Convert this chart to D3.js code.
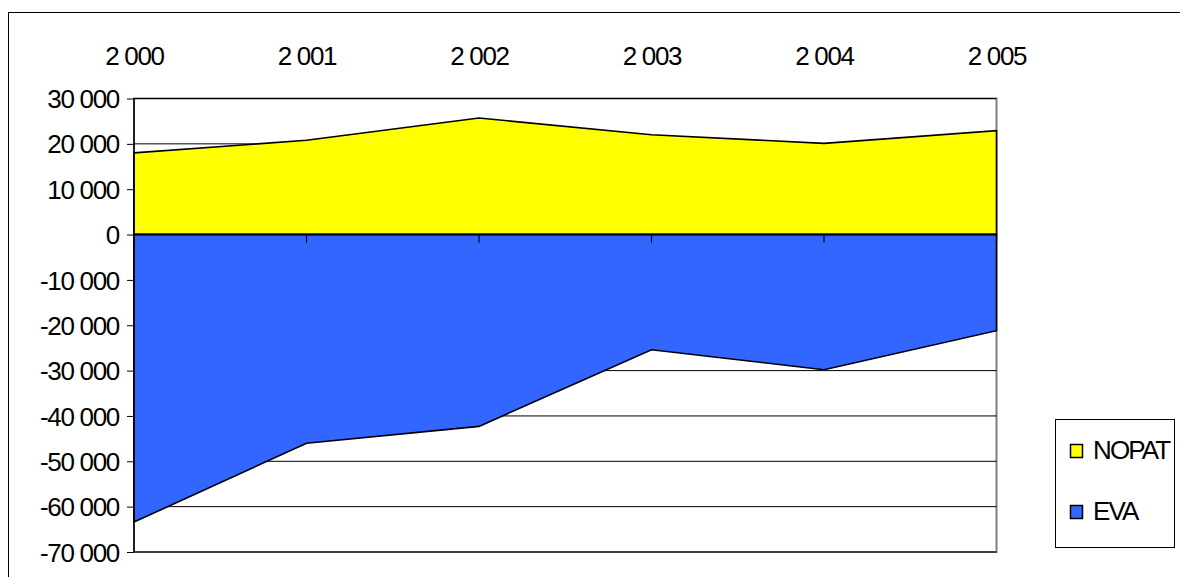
<!DOCTYPE html>
<html>
<head>
<meta charset="utf-8">
<script src="https://cdn.jsdelivr.net/npm/d3@7"></script>
<style>
  html, body { margin: 0; padding: 0; background: #fff; }
  svg { display: block; }
  text { font-family: "Liberation Sans", Arial, sans-serif; font-size: 26px; letter-spacing: -1.3px; fill: #000; }
  .legend-label { letter-spacing: -1.9px; }
</style>
</head>
<body>
<svg id="chart" width="1180" height="577"></svg>
<script>
// Yearly NOPAT and EVA figures
const years = [2000, 2001, 2002, 2003, 2004, 2005];
const nopat = [18000, 20800, 25700, 22000, 20100, 22900];
const eva = [-63400, -46000, -42300, -25400, -29800, -21200];
const yTicks = [30000, 20000, 10000, 0, -10000, -20000, -30000, -40000, -50000, -60000, -70000];
const seriesNames = ["NOPAT", "EVA"];
const seriesColors = ["#FFFF00", "#3366FF"];

const locale = d3.formatLocale({ decimal: ",", thousands: " ", grouping: [3], currency: ["", ""], minus: "-" });
const fmt = locale.format(",");

const svg = d3.select("#chart");
const plot = { left: 134, right: 996.5, top: 98.5, bottom: 552 };

const x = d3.scalePoint().domain(years).range([plot.left, plot.right]);
const y = d3.scaleLinear().domain([-70000, 30000]).range([plot.bottom, plot.top]);

// chart area frame
svg.append("rect")
  .attr("x", 8.5).attr("y", 12.5).attr("width", 1200).attr("height", 600)
  .attr("fill", "#fff").attr("stroke", "#000").attr("stroke-width", 1);

// plot area frame
svg.append("rect")
  .attr("x", plot.left).attr("y", plot.top)
  .attr("width", plot.right - plot.left).attr("height", plot.bottom - plot.top)
  .attr("fill", "#fff").attr("stroke", "#808080").attr("stroke-width", 2);

// horizontal gridlines
svg.append("g").selectAll("line").data(yTicks).join("line")
  .attr("x1", plot.left).attr("x2", plot.right)
  .attr("y1", d => y(d)).attr("y2", d => y(d))
  .attr("stroke", "#000").attr("stroke-width", 1);

// areas drawn from the zero baseline
const area = d3.area().x((d, i) => x(years[i])).y0(y(0)).y1(d => y(d));
[nopat, eva].forEach((vals, k) => {
  svg.append("path")
    .attr("d", area(vals))
    .attr("fill", seriesColors[k])
    .attr("stroke", "#000").attr("stroke-width", 1.6).attr("stroke-linejoin", "miter");
});

// zero line and category ticks
svg.append("line")
  .attr("x1", plot.left).attr("x2", plot.right)
  .attr("y1", y(0)).attr("y2", y(0))
  .attr("stroke", "#000").attr("stroke-width", 2);
svg.append("g").selectAll("line").data(years).join("line")
  .attr("x1", d => x(d)).attr("x2", d => x(d))
  .attr("y1", y(0)).attr("y2", y(0) + 8)
  .attr("stroke", "#000").attr("stroke-width", 1.2);

// value axis
const yAxis = svg.append("g")
  .attr("transform", `translate(${plot.left},0)`)
  .call(d3.axisLeft(y).tickValues(yTicks).tickSize(7).tickPadding(8).tickFormat(fmt));
yAxis.select(".domain").attr("stroke", "#000").attr("stroke-width", 1.5).attr("d", `M0,${plot.top}V${plot.bottom}`);
yAxis.selectAll(".tick line").attr("stroke", "#000");
yAxis.selectAll("text").attr("font-size", null).attr("font-family", null).attr("dy", "0.35em");

// category labels above the plot
const xAxis = svg.append("g")
  .attr("transform", `translate(0,${plot.top})`)
  .call(d3.axisTop(x).tickSize(0).tickPadding(34).tickFormat(fmt));
xAxis.select(".domain").remove();
xAxis.selectAll("text").attr("font-size", null).attr("font-family", null);

// legend
const legend = svg.append("g");
legend.append("rect")
  .attr("x", 1055.5).attr("y", 419.5).attr("width", 119).attr("height", 128)
  .attr("fill", "#fff").attr("stroke", "#000").attr("stroke-width", 1);
const rows = legend.selectAll("g.item").data(seriesNames).join("g")
  .attr("class", "item")
  .attr("transform", (d, i) => `translate(0,${i * 61})`);
rows.append("rect")
  .attr("x", 1070.5).attr("y", 444.5).attr("width", 12).attr("height", 13)
  .attr("fill", (d, i) => seriesColors[i]).attr("stroke", "#000").attr("stroke-width", 1.5);
rows.append("text")
  .attr("class", "legend-label")
  .attr("x", 1093).attr("y", 459)
  .text(d => d);
</script>
</body>
</html>
